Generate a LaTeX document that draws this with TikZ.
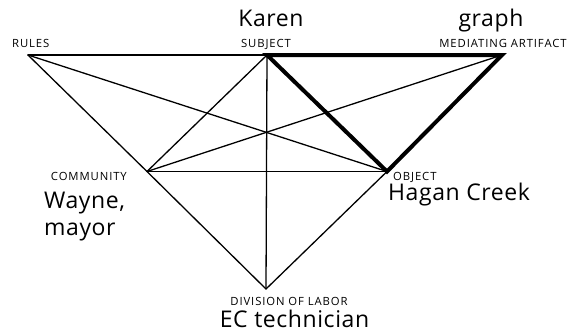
\documentclass[tikz,border=0pt]{standalone}
\usepackage{fontspec}
\setmainfont{Open Sans}
\newfontfamily\capsfont[LetterSpace=8]{Open Sans}
\newfontfamily\namefont[LetterSpace=2.5]{Open Sans}
\begin{document}
\begin{tikzpicture}[x=1pt,y=-1pt,
  thin line/.style={line width=1.3pt, line cap=round, line join=round},
  thick line/.style={line width=4pt, line cap=round, line join=miter},
  small label/.style={font=\capsfont\fontsize{11.3}{12}\selectfont, inner sep=0pt},
  big label/.style={font=\namefont\fontsize{23}{27}\selectfont, inner sep=0pt, align=left}]
  \useasboundingbox (0,0) rectangle (575,335);
  % vertices of the activity system
  \coordinate (rules) at (28,55);
  \coordinate (subject) at (267,55);
  \coordinate (artifact) at (502,55);
  \coordinate (community) at (147,171.5);
  \coordinate (object) at (387,171.5);
  \coordinate (division) at (266,289);
  % thin connections
  \draw[thin line] (rules) -- (subject);
  \draw[thin line] (rules) -- (community);
  \draw[thin line] (rules) -- (object);
  \draw[thin line] (subject) -- (community);
  \draw[thin line] (subject) -- (division);
  \draw[thin line] (artifact) -- (community);
  \draw[thin line] (community) -- (object);
  \draw[thin line] (community) -- (division);
  \draw[thin line] (division) -- (object);
  % mediating triangle
  \draw[thick line] (subject) -- (artifact) -- (object) -- cycle;
  % labels
  \node[small label, anchor=base west] (lrules) at (12,47.5) {RULES};
  \node[small label, anchor=base] (lsubject) at (266,47.5) {SUBJECT};
  \node[small label, anchor=base] (lartifact) at (503,47.5) {MEDIATING ARTIFACT};
  \node[small label, anchor=base east] (lcommunity) at (127,180) {COMMUNITY};
  \node[small label, anchor=base west] (lobject) at (393,180) {OBJECT};
  \node[small label, anchor=base] (ldivision) at (289,305.5) {DIVISION OF LABOR};
  \node[big label, anchor=base] (karen) at (271,26.5) {Karen};
  \node[big label, anchor=base] (graph) at (491,26.5) {graph};
  \node[big label, anchor=base west] (wayne) at (44,235) {Wayne,\\mayor};
  \node[big label, anchor=base west] (hagan) at (388,200) {Hagan Creek};
  \node[big label, anchor=base] (ec) at (294.5,327.5) {EC technician};
\end{tikzpicture}
\end{document}
